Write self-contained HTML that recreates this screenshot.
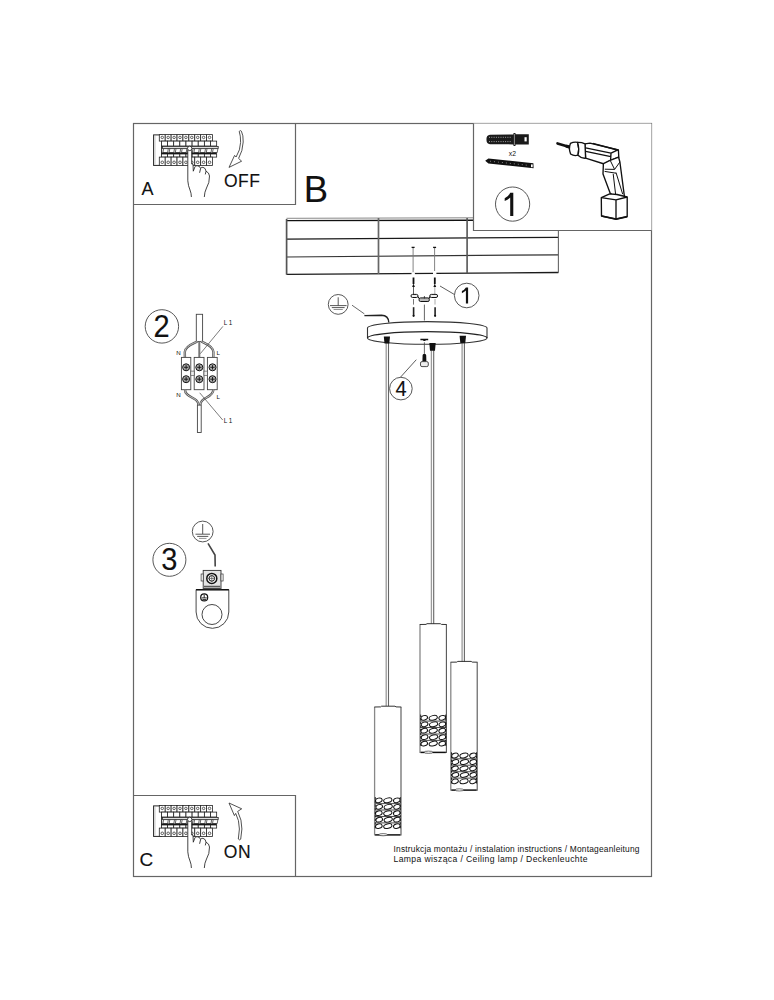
<!DOCTYPE html>
<html><head><meta charset="utf-8">
<style>
html,body{margin:0;padding:0;background:#fff;}
body{width:774px;height:1000px;overflow:hidden;position:relative;}
svg{position:absolute;left:0;top:0;display:block;}
text{font-family:"Liberation Sans",sans-serif;fill:#111;}
.b{stroke:#111;stroke-width:0.12;}
</style></head>
<body>
<svg width="774" height="1000" viewBox="0 0 774 1000">
<rect width="774" height="1000" fill="#fff"/>

<!-- FRAMES -->
<g fill="none" stroke="#656565" stroke-width="1.2">
  <rect x="133.5" y="123.5" width="518" height="753"/>
  <polyline points="133.5,204.5 295.5,204.5 295.5,123.5"/>
  <polyline points="133.5,795.5 295.5,795.5 295.5,876.5"/>
</g>

<!-- CEILING -->
<g fill="none" stroke-linecap="butt">
  <line x1="286.5" y1="218.3" x2="473" y2="217.8" stroke="#888" stroke-width="1"/>
  <line x1="286.5" y1="220.6" x2="473" y2="220.2" stroke="#111" stroke-width="1.4"/>
  <line x1="286.5" y1="239.2" x2="558.4" y2="237.3" stroke="#1a1a1a" stroke-width="1.25"/>
  <line x1="286.5" y1="257.0" x2="558.4" y2="254.8" stroke="#333" stroke-width="1.2"/>
  <line x1="286.5" y1="274.4" x2="558.4" y2="272.5" stroke="#1a1a1a" stroke-width="1.35"/>
  <line x1="286.6" y1="219" x2="286.6" y2="274.6" stroke="#555" stroke-width="1.7"/>
  <line x1="378.5" y1="218" x2="378.5" y2="274" stroke="#666" stroke-width="1.7"/>
  <line x1="467.1" y1="218" x2="467.1" y2="273.2" stroke="#555" stroke-width="1.6"/>
  <line x1="558.4" y1="230.5" x2="558.4" y2="272.8" stroke="#666" stroke-width="1.1"/>
</g>
<!-- SCREWS INTO CEILING -->
<g stroke="#777" fill="none">
  <line x1="413.1" y1="247.5" x2="413.1" y2="272" stroke-width="0.9"/>
  <line x1="434.6" y1="247.5" x2="434.6" y2="271" stroke-width="0.9"/>
  <line x1="411.6" y1="247.4" x2="414.6" y2="247.4" stroke-width="1.3" stroke="#111"/>
  <line x1="433.1" y1="247.4" x2="436.1" y2="247.4" stroke-width="1.3" stroke="#111"/>
  <rect x="411.5" y="272.6" width="3.4" height="3.2" fill="#fff" stroke="none"/>
  <rect x="433" y="271.6" width="3.4" height="3.2" fill="#fff" stroke="none"/>
  <line x1="413.5" y1="277.5" x2="413.5" y2="284" stroke-width="1.8" stroke="#111"/>
  <line x1="434.8" y1="277.5" x2="434.8" y2="284" stroke-width="1.8" stroke="#111"/>
  <path d="M412.1,287 L413.5,283.5 L414.9,287Z" fill="#111" stroke="none"/>
  <path d="M433.4,287 L434.8,283.5 L436.2,287Z" fill="#111" stroke="none"/>
  <line x1="413.5" y1="287" x2="413.5" y2="294.5" stroke-width="0.8" stroke="#333"/>
  <line x1="434.8" y1="287" x2="434.8" y2="294.5" stroke-width="0.8" stroke="#999"/>
  <line x1="413.5" y1="299" x2="413.5" y2="304.6" stroke-width="1" stroke="#777"/>
  <line x1="435" y1="299" x2="435" y2="304.6" stroke-width="1" stroke="#aaa"/>
  <line x1="413.6" y1="307.2" x2="413.6" y2="315.6" stroke-width="1.6" stroke="#222"/>
  <line x1="435.1" y1="307.2" x2="435.1" y2="315.6" stroke-width="1.6" stroke="#222"/>
  <circle cx="413.6" cy="315.8" r="1.1" fill="#111" stroke="none"/>
  <circle cx="435.1" cy="315.8" r="1.1" fill="#111" stroke="none"/>
  <line x1="424.4" y1="304.6" x2="424.4" y2="320.5" stroke-width="0.9" stroke="#555"/>
</g>
<!-- BRACKET -->
<g stroke="#111" stroke-width="1">
  <path d="M417.6,296.2 L419.8,299.4 M430.2,296.2 L428.4,299.4" fill="none"/>
  <rect x="411" y="294.4" width="7" height="3.1" rx="1.55" fill="#eee"/>
  <rect x="429.8" y="294.4" width="7.8" height="3.1" rx="1.55" fill="#eee"/>
  <rect x="419.1" y="297.9" width="10.2" height="3.6" rx="1.4" fill="#bbb"/>
  <line x1="424.4" y1="296" x2="424.4" y2="298.5" stroke-width="0.7"/>
</g>
<!-- leader 1 -->
<line x1="440" y1="286" x2="454.4" y2="294.5" stroke="#333" stroke-width="0.8"/>
<circle cx="466.7" cy="295.5" r="12.3" fill="#fff" stroke="#444" stroke-width="0.9"/>
<path d="M465.9,287.4 L468.1,287.4 L468.1,303.4 L465.9,303.4 L465.9,290.6 Q464,292.5 461.9,293.2 L461.9,291 Q464.6,289.6 465.9,287.4Z" fill="#111"/>

<!-- GROUND SYMBOL -->
<g stroke="#444" fill="none" stroke-width="0.9">
  <circle cx="338.2" cy="304.4" r="9.9"/>
  <line x1="338.2" y1="297.3" x2="338.2" y2="305.5"/>
  <line x1="330" y1="305.6" x2="346.6" y2="305.6"/>
  <line x1="331.8" y1="307.6" x2="344.6" y2="307.6"/>
  <line x1="333.6" y1="309.5" x2="342.8" y2="309.5" stroke="#888"/>
  <line x1="352" y1="305.2" x2="364.4" y2="313.9" stroke-width="0.8"/>
  <path d="M364.4,315.6 L381.5,315.2 Q388.5,315.2 388.8,322.5" stroke="#222" stroke-width="1.4"/>
</g>

<!-- CABLES -->
<g fill="none">
  <line x1="386.2" y1="343" x2="386.2" y2="706" stroke="#9a9a9a" stroke-width="1.3"/>
  <line x1="388.5" y1="343" x2="388.5" y2="706" stroke="#666" stroke-width="1.1"/>
  <line x1="431.4" y1="350" x2="431.4" y2="624" stroke="#9a9a9a" stroke-width="1.3"/>
  <line x1="433.7" y1="350" x2="433.7" y2="624" stroke="#666" stroke-width="1.1"/>
  <line x1="462.1" y1="342" x2="462.1" y2="662" stroke="#9a9a9a" stroke-width="1.3"/>
  <line x1="464.4" y1="342" x2="464.4" y2="662" stroke="#666" stroke-width="1.1"/>
</g>

<!-- CANOPY -->
<g stroke="#333" stroke-width="1.1" fill="#fff">
  <path d="M367.5,328 A59.75,6.4 0 0 1 487,328 L487,338 A59.75,6.3 0 0 1 367.5,338 Z"/>
  <path d="M367.5,338 A59.75,6.3 0 0 1 487,338" fill="none" stroke="#222" stroke-width="1.3"/>
</g>
<!-- holders -->
<g fill="#111">
  <path d="M383.8,336.5 L390,336.5 L389.3,343.6 L384.5,343.6Z"/>
  <path d="M429.3,343 L435.7,343 L435,350.7 L430,350.7Z"/>
  <path d="M459.6,335.8 L466,335.8 L465.3,343 L460.3,343Z"/>
</g>
<!-- screw 4 -->
<g>
  <path d="M420.4,339.6 L428.2,339.6 M423.3,340.3 L425.5,340.3" stroke="#111" stroke-width="1.5"/>
  <line x1="424.4" y1="342.3" x2="424.4" y2="353.8" stroke="#444" stroke-width="0.8"/>
  <path d="M422.6,355.3 Q422.6,353.8 424.4,353.8 Q426.2,353.8 426.2,355.3 L426.4,361.5 L422.4,361.5Z" fill="#111"/>
  <rect x="420.5" y="361.6" width="7.8" height="5" rx="1.5" fill="#eee" stroke="#222" stroke-width="0.8"/>
</g>
<line x1="416.3" y1="359.7" x2="400.4" y2="377.3" stroke="#333" stroke-width="0.8"/>
<circle cx="400.9" cy="388.6" r="11.3" fill="#fff" stroke="#444" stroke-width="0.9"/>
<text class="b" x="395.5" y="395.8" font-size="20" transform="translate(0 395.8) scale(1 1.08) translate(0 -395.8)">4</text>

<rect x="473.5" y="123.5" width="178" height="107" fill="#fff" stroke="none"/>
<polyline points="473.5,123.5 473.5,230.5 651.5,230.5" fill="none" stroke="#656565" stroke-width="1.2"/>

<!-- PANEL 2 -->
<circle cx="161.9" cy="326.4" r="16.7" fill="none" stroke="#444" stroke-width="0.9"/>
<text class="b" x="153.6" y="337" font-size="29" transform="translate(0 337) scale(1 1.1) translate(0 -337)">2</text>
<g stroke="#444" stroke-width="0.9" fill="#fff">
  <rect x="196.3" y="314.3" width="6.3" height="27.2"/>
  <!-- upper wires -->
  <path d="M197.4,341.5 C193.5,343.5 185,346 184.8,352 L184.9,357.5" fill="none" stroke="#555" stroke-width="2.4"/>
  <path d="M197.4,341.5 C193.5,343.5 185,346 184.8,352 L184.9,357.5" fill="none" stroke="#ddd" stroke-width="0.8"/>
  <path d="M201.3,341.5 C205,343.5 213.3,346 213.4,352 L213.3,357.5" fill="none" stroke="#555" stroke-width="2.4"/>
  <path d="M201.3,341.5 C205,343.5 213.3,346 213.4,352 L213.3,357.5" fill="none" stroke="#ddd" stroke-width="0.8"/>
  <line x1="199.3" y1="341.5" x2="199.3" y2="357.4" stroke="#777" stroke-width="2"/>
  <!-- terminals -->
  <rect x="181.4" y="357.4" width="9.4" height="32.3"/>
  <rect x="194.2" y="357.4" width="9.8" height="32.3"/>
  <rect x="207.4" y="357.4" width="9.8" height="32.3"/>
  <rect x="190.8" y="371.1" width="3.4" height="4.3" fill="#eee" stroke-width="0.6"/>
  <rect x="204" y="371.1" width="3.4" height="4.3" fill="#eee" stroke-width="0.6"/>
  <!-- lower wires -->
  <path d="M185,389.7 C185,396 193,397 196.5,400.5 C198,402 198.5,403.5 198.6,405.2" fill="none" stroke="#555" stroke-width="2.4"/>
  <path d="M185,389.7 C185,396 193,397 196.5,400.5 C198,402 198.5,403.5 198.6,405.2" fill="none" stroke="#ddd" stroke-width="0.8"/>
  <path d="M213.3,389.7 C213.3,396 205.5,397 202.2,400.5 C200.8,402 200.3,403.5 200.2,405.2" fill="none" stroke="#555" stroke-width="2.4"/>
  <path d="M213.3,389.7 C213.3,396 205.5,397 202.2,400.5 C200.8,402 200.3,403.5 200.2,405.2" fill="none" stroke="#ddd" stroke-width="0.8"/>
  <rect x="197.4" y="405.1" width="3.8" height="27.4"/>
</g>
<g fill="#aaa" stroke="#111" stroke-width="1">
  <circle cx="186.1" cy="367.3" r="3.5"/><circle cx="199.3" cy="367.3" r="3.5"/><circle cx="212.5" cy="367.3" r="3.5"/>
  <circle cx="186.1" cy="379.2" r="3.5"/><circle cx="199.3" cy="379.2" r="3.5"/><circle cx="212.5" cy="379.2" r="3.5"/>
</g>
<g stroke="#111" stroke-width="0.9">
  <path d="M183.9,367.3h4.4M186.1,365.1v4.4M197.1,367.3h4.4M199.3,365.1v4.4M210.3,367.3h4.4M212.5,365.1v4.4"/>
  <path d="M183.9,379.2h4.4M186.1,377v4.4M197.1,379.2h4.4M199.3,377v4.4M210.3,379.2h4.4M212.5,377v4.4"/>
</g>
<g stroke="#444" stroke-width="0.7">
  <line x1="222.9" y1="326.4" x2="200.3" y2="353.7"/>
  <line x1="199.7" y1="392.8" x2="222.7" y2="420"/>
</g>
<g font-size="6.2" fill="#666">
  <text x="176.3" y="354.8">N</text>
  <text x="216.4" y="354.6">L</text>
  <text x="176.3" y="397.3">N</text>
  <text x="216.4" y="398.9">L</text>
  <text x="223.8" y="325.1" font-size="6.3">L 1</text>
  <text x="223.8" y="423.1" font-size="6.3">L 1</text>
</g>

<!-- PANEL 3 -->
<circle cx="169.4" cy="559.8" r="16.5" fill="none" stroke="#444" stroke-width="0.9"/>
<text class="b" x="161.3" y="569.6" font-size="29" transform="translate(0 569.6) scale(1 1.09) translate(0 -569.6)">3</text>
<g stroke="#444" stroke-width="0.9" fill="none">
  <circle cx="202.7" cy="531.5" r="10.4"/>
  <line x1="202.7" y1="524" x2="202.7" y2="534"/>
  <line x1="195.5" y1="534.2" x2="210" y2="534.2"/>
  <line x1="197.2" y1="536.4" x2="208.3" y2="536.4"/>
  <line x1="199" y1="538.4" x2="206.5" y2="538.4" stroke="#888"/>
  <path d="M208,543.4 L215,555 L215.2,566.5" stroke="#444" stroke-width="1.6"/>
</g>
<!-- lug -->
<g stroke="#333" stroke-width="0.9">
  <path d="M196.1,589.6 L228.8,589.6 L228.8,612 A16.35,16.35 0 0 1 196.1,612 Z" fill="#fff"/>
  <line x1="196.1" y1="589.8" x2="228.8" y2="589.8" stroke="#111" stroke-width="1.6"/>
  <circle cx="212" cy="614.5" r="10" fill="#fff"/>
  <circle cx="204.2" cy="597.4" r="3.5" fill="#fff" stroke="#111" stroke-width="1.2"/>
  <path d="M201.6,597.9h5.2M204.2,594.6v3.3M202.4,599.6h3.6" stroke="#111" stroke-width="0.9"/>
  <rect x="203.2" y="570.4" width="17.8" height="18.5" fill="#e4e4e4"/>
  <rect x="201.1" y="574" width="2.1" height="7" fill="#fff" stroke-width="0.7"/>
  <rect x="221" y="574" width="2.1" height="7" fill="#fff" stroke-width="0.7"/>
  <line x1="204" y1="586.3" x2="220.2" y2="586.3" stroke="#222" stroke-width="0.9"/>
  <line x1="204" y1="588.2" x2="220.2" y2="588.2" stroke="#222" stroke-width="0.9"/>
  <circle cx="211.8" cy="578.4" r="5" fill="#fff" stroke="#111" stroke-width="1.5"/>
  <circle cx="211.8" cy="578.4" r="2.8" fill="none" stroke="#111" stroke-width="1"/>
  <path d="M208.4,578.4h6.8M211.8,575v6.8" stroke="#444" stroke-width="0.7"/>
</g>

<!-- BOX 1 -->
<g>
  <path d="M486.5,139.4 Q486.2,135.4 490,134.8 L513.3,134.4 L513.6,133 L515.4,133 L515.6,134.3 L528.8,134.3 L528.8,144.4 L515.6,144.4 L515.4,145.9 L513.6,145.9 L513.3,144.4 L490,144.2 Q486.2,143.6 486.5,139.4Z" fill="#1a1a1a"/>
  <g stroke="#fff" stroke-width="0.6" stroke-dasharray="1 1.3">
    <line x1="489" y1="137.3" x2="511" y2="137.3"/>
    <line x1="489" y1="141.6" x2="511" y2="141.6"/>
  </g>
  <rect x="524.5" y="137.2" width="2.2" height="4.2" fill="#fff"/>
  <line x1="514.4" y1="134" x2="514.4" y2="145" stroke="#fff" stroke-width="0.5"/>
  <text x="508.8" y="155.8" font-size="6.8" fill="#555">x2</text>
  <path d="M485.2,160.7 L488.4,158.5 L533.4,163.2 L533.6,168.3 L488.4,163.5 Z" fill="#111"/>
  <line x1="490" y1="161.2" x2="529" y2="165.4" stroke="#fff" stroke-width="0.6" stroke-dasharray="0.8 3.2"/>
  <rect x="531" y="164.4" width="1.7" height="2.8" fill="#fff"/>
  <circle cx="512.6" cy="204.1" r="17.1" fill="none" stroke="#444" stroke-width="0.9"/>
  <path d="M510.2,192.8 L513.3,192.8 L513.3,215.9 L510.2,215.9 L510.2,197.6 Q507.6,199.9 504.7,201 L504.7,198.2 Q508.6,196.4 510.2,192.8Z" fill="#111"/>
</g>
<!-- DRILL -->
<g fill="#fff" stroke="#111" stroke-width="1.35" stroke-linejoin="round">
  <line x1="557.5" y1="143.4" x2="569.4" y2="147" stroke-width="2.6" stroke-linecap="round"/><line x1="566" y1="146" x2="570" y2="147.3" stroke-width="3.2"/>
  <path d="M585,143.8 L590,143.2 L618.4,150 L618.8,157.2 L609.5,160.8 L604.2,164 L585.6,158.2 Z"/>
  <path d="M570.4,143.4 Q574,141.6 577.6,142.4 Q579.6,148.6 578,155.2 Q574,156.4 570.6,154 Q568.4,148.4 570.4,143.4Z"/>
  <path d="M577.6,142.4 Q581.5,142.2 585,143.8 L585.6,158.2 Q581.8,158.8 578,155.2 Q579.6,148.6 577.6,142.4Z"/>
  <path d="M585.6,147.8 L611,153.2 L618.4,149.6 M585.7,151.4 L610.8,156.6 M611,153.2 L610.6,160.4 M592.8,143.4 L617.6,150" fill="none"/>
  <path d="M603.4,163.6 L603,173.9 L610.2,193.2 L616,197.7 L624.4,196.3 L619.9,162 L618.6,157.2 L609.5,160.6 Z"/>
  <path d="M604.8,169.2 L614.6,169.4 L619.9,162 M604.6,171.4 L616,173.2 M613.2,173.9 L616,197.7 M616,172.5 L622.7,194.2 M610.5,161 L614.6,169.4" fill="none" stroke-width="1"/>
  <path d="M601.3,197.7 L609.7,193.9 L617,194.5 L627.2,197 L627.2,216.6 L616,219.1 L601.5,216 Z"/>
  <path d="M601.3,197.7 L616,199.8 L627.2,197 M616,199.8 L616,219.1" fill="none"/>
  <path d="M601.5,216 L616,219.1 L627.2,216.6" fill="none" stroke-width="1.6"/>
</g>

<g id="lamp1">
<rect x="374.6" y="707.0" width="26.4" height="128.5" fill="#fff" stroke="none"/>
<line x1="374.6" y1="707.0" x2="374.6" y2="835.5" stroke="#888" stroke-width="1.3"/>
<line x1="401.0" y1="707.0" x2="401.0" y2="835.5" stroke="#555" stroke-width="1.1"/>
<path d="M374.3,707.0 L380.6,706.9 L381.6,706.2 L395.0,706.2 L396.0,706.9 L401.3,707.0" fill="none" stroke="#333" stroke-width="1"/>
<line x1="375.1" y1="803.6" x2="400.5" y2="803.6" stroke="#222" stroke-width="0.8"/>
<line x1="375.1" y1="810.0" x2="400.5" y2="810.0" stroke="#222" stroke-width="0.8"/>
<line x1="375.1" y1="816.5" x2="400.5" y2="816.5" stroke="#222" stroke-width="0.8"/>
<line x1="375.1" y1="822.9" x2="400.5" y2="822.9" stroke="#222" stroke-width="0.8"/>
<g stroke="#111" stroke-width="1.0" fill="#fff">
<ellipse cx="378.8" cy="800.3" rx="3.4" ry="2.25" transform="rotate(-14 378.8 800.3)"/>
<ellipse cx="387.8" cy="800.3" rx="4.2" ry="2.25" transform="rotate(-14 387.8 800.3)"/>
<ellipse cx="396.8" cy="800.3" rx="3.4" ry="2.25" transform="rotate(-14 396.8 800.3)"/>
<ellipse cx="379.2" cy="806.8" rx="3.4" ry="2.25" transform="rotate(-14 379.2 806.8)"/>
<ellipse cx="388.2" cy="806.8" rx="4.2" ry="2.25" transform="rotate(-14 388.2 806.8)"/>
<ellipse cx="397.0" cy="806.8" rx="3.4" ry="2.25" transform="rotate(-14 397.0 806.8)"/>
<ellipse cx="378.8" cy="813.2" rx="3.4" ry="2.25" transform="rotate(-14 378.8 813.2)"/>
<ellipse cx="387.8" cy="813.2" rx="4.2" ry="2.25" transform="rotate(-14 387.8 813.2)"/>
<ellipse cx="396.8" cy="813.2" rx="3.4" ry="2.25" transform="rotate(-14 396.8 813.2)"/>
<ellipse cx="379.2" cy="819.7" rx="3.4" ry="2.25" transform="rotate(-14 379.2 819.7)"/>
<ellipse cx="388.2" cy="819.7" rx="4.2" ry="2.25" transform="rotate(-14 388.2 819.7)"/>
<ellipse cx="397.0" cy="819.7" rx="3.4" ry="2.25" transform="rotate(-14 397.0 819.7)"/>
<ellipse cx="378.8" cy="826.1" rx="3.4" ry="2.25" transform="rotate(-14 378.8 826.1)"/>
<ellipse cx="387.8" cy="826.1" rx="4.2" ry="2.25" transform="rotate(-14 387.8 826.1)"/>
<ellipse cx="396.8" cy="826.1" rx="3.4" ry="2.25" transform="rotate(-14 396.8 826.1)"/>
</g>
<line x1="375.3" y1="797.1" x2="375.3" y2="829.5" stroke="#111" stroke-width="0.9" stroke-dasharray="2.4 1.2"/>
<line x1="400.3" y1="797.1" x2="400.3" y2="829.5" stroke="#111" stroke-width="0.9" stroke-dasharray="2.4 1.2"/>
<path d="M375.1,834.9 L400.5,834.9" stroke="#111" stroke-width="1.5"/>
<ellipse cx="383.1" cy="834.7" rx="4.2" ry="1.1" fill="#fff" stroke="#333" stroke-width="0.7"/>
</g>
<g id="lamp2">
<rect x="420.0" y="624.5" width="26.4" height="128.5" fill="#fff" stroke="none"/>
<line x1="420.0" y1="624.5" x2="420.0" y2="753.0" stroke="#888" stroke-width="1.3"/>
<line x1="446.4" y1="624.5" x2="446.4" y2="753.0" stroke="#555" stroke-width="1.1"/>
<path d="M419.7,624.5 L426.0,624.4 L427.0,623.7 L440.4,623.7 L441.4,624.4 L446.7,624.5" fill="none" stroke="#333" stroke-width="1"/>
<line x1="420.5" y1="721.1" x2="445.9" y2="721.1" stroke="#222" stroke-width="0.8"/>
<line x1="420.5" y1="727.5" x2="445.9" y2="727.5" stroke="#222" stroke-width="0.8"/>
<line x1="420.5" y1="734.0" x2="445.9" y2="734.0" stroke="#222" stroke-width="0.8"/>
<line x1="420.5" y1="740.4" x2="445.9" y2="740.4" stroke="#222" stroke-width="0.8"/>
<g stroke="#111" stroke-width="1.0" fill="#fff">
<ellipse cx="424.2" cy="717.8" rx="3.4" ry="2.25" transform="rotate(-14 424.2 717.8)"/>
<ellipse cx="433.2" cy="717.8" rx="4.2" ry="2.25" transform="rotate(-14 433.2 717.8)"/>
<ellipse cx="442.2" cy="717.8" rx="3.4" ry="2.25" transform="rotate(-14 442.2 717.8)"/>
<ellipse cx="424.6" cy="724.3" rx="3.4" ry="2.25" transform="rotate(-14 424.6 724.3)"/>
<ellipse cx="433.6" cy="724.3" rx="4.2" ry="2.25" transform="rotate(-14 433.6 724.3)"/>
<ellipse cx="442.4" cy="724.3" rx="3.4" ry="2.25" transform="rotate(-14 442.4 724.3)"/>
<ellipse cx="424.2" cy="730.7" rx="3.4" ry="2.25" transform="rotate(-14 424.2 730.7)"/>
<ellipse cx="433.2" cy="730.7" rx="4.2" ry="2.25" transform="rotate(-14 433.2 730.7)"/>
<ellipse cx="442.2" cy="730.7" rx="3.4" ry="2.25" transform="rotate(-14 442.2 730.7)"/>
<ellipse cx="424.6" cy="737.2" rx="3.4" ry="2.25" transform="rotate(-14 424.6 737.2)"/>
<ellipse cx="433.6" cy="737.2" rx="4.2" ry="2.25" transform="rotate(-14 433.6 737.2)"/>
<ellipse cx="442.4" cy="737.2" rx="3.4" ry="2.25" transform="rotate(-14 442.4 737.2)"/>
<ellipse cx="424.2" cy="743.6" rx="3.4" ry="2.25" transform="rotate(-14 424.2 743.6)"/>
<ellipse cx="433.2" cy="743.6" rx="4.2" ry="2.25" transform="rotate(-14 433.2 743.6)"/>
<ellipse cx="442.2" cy="743.6" rx="3.4" ry="2.25" transform="rotate(-14 442.2 743.6)"/>
</g>
<line x1="420.7" y1="714.6" x2="420.7" y2="747.0" stroke="#111" stroke-width="0.9" stroke-dasharray="2.4 1.2"/>
<line x1="445.7" y1="714.6" x2="445.7" y2="747.0" stroke="#111" stroke-width="0.9" stroke-dasharray="2.4 1.2"/>
<path d="M420.5,752.4 L445.9,752.4" stroke="#111" stroke-width="1.5"/>
<ellipse cx="428.5" cy="752.2" rx="4.2" ry="1.1" fill="#fff" stroke="#333" stroke-width="0.7"/>
</g>
<g id="lamp3">
<rect x="450.8" y="662.2" width="26.4" height="128.5" fill="#fff" stroke="none"/>
<line x1="450.8" y1="662.2" x2="450.8" y2="790.7" stroke="#888" stroke-width="1.3"/>
<line x1="477.2" y1="662.2" x2="477.2" y2="790.7" stroke="#555" stroke-width="1.1"/>
<path d="M450.5,662.2 L456.8,662.1 L457.8,661.4 L471.2,661.4 L472.2,662.1 L477.5,662.2" fill="none" stroke="#333" stroke-width="1"/>
<line x1="451.3" y1="758.8" x2="476.7" y2="758.8" stroke="#222" stroke-width="0.8"/>
<line x1="451.3" y1="765.2" x2="476.7" y2="765.2" stroke="#222" stroke-width="0.8"/>
<line x1="451.3" y1="771.7" x2="476.7" y2="771.7" stroke="#222" stroke-width="0.8"/>
<line x1="451.3" y1="778.1" x2="476.7" y2="778.1" stroke="#222" stroke-width="0.8"/>
<g stroke="#111" stroke-width="1.0" fill="#fff">
<ellipse cx="455.0" cy="755.5" rx="3.4" ry="2.25" transform="rotate(-14 455.0 755.5)"/>
<ellipse cx="464.0" cy="755.5" rx="4.2" ry="2.25" transform="rotate(-14 464.0 755.5)"/>
<ellipse cx="473.0" cy="755.5" rx="3.4" ry="2.25" transform="rotate(-14 473.0 755.5)"/>
<ellipse cx="455.4" cy="762.0" rx="3.4" ry="2.25" transform="rotate(-14 455.4 762.0)"/>
<ellipse cx="464.4" cy="762.0" rx="4.2" ry="2.25" transform="rotate(-14 464.4 762.0)"/>
<ellipse cx="473.2" cy="762.0" rx="3.4" ry="2.25" transform="rotate(-14 473.2 762.0)"/>
<ellipse cx="455.0" cy="768.4" rx="3.4" ry="2.25" transform="rotate(-14 455.0 768.4)"/>
<ellipse cx="464.0" cy="768.4" rx="4.2" ry="2.25" transform="rotate(-14 464.0 768.4)"/>
<ellipse cx="473.0" cy="768.4" rx="3.4" ry="2.25" transform="rotate(-14 473.0 768.4)"/>
<ellipse cx="455.4" cy="774.9" rx="3.4" ry="2.25" transform="rotate(-14 455.4 774.9)"/>
<ellipse cx="464.4" cy="774.9" rx="4.2" ry="2.25" transform="rotate(-14 464.4 774.9)"/>
<ellipse cx="473.2" cy="774.9" rx="3.4" ry="2.25" transform="rotate(-14 473.2 774.9)"/>
<ellipse cx="455.0" cy="781.3" rx="3.4" ry="2.25" transform="rotate(-14 455.0 781.3)"/>
<ellipse cx="464.0" cy="781.3" rx="4.2" ry="2.25" transform="rotate(-14 464.0 781.3)"/>
<ellipse cx="473.0" cy="781.3" rx="3.4" ry="2.25" transform="rotate(-14 473.0 781.3)"/>
</g>
<line x1="451.5" y1="752.3" x2="451.5" y2="784.7" stroke="#111" stroke-width="0.9" stroke-dasharray="2.4 1.2"/>
<line x1="476.5" y1="752.3" x2="476.5" y2="784.7" stroke="#111" stroke-width="0.9" stroke-dasharray="2.4 1.2"/>
<path d="M451.3,790.1 L476.7,790.1" stroke="#111" stroke-width="1.5"/>
<ellipse cx="459.3" cy="789.9" rx="4.2" ry="1.1" fill="#fff" stroke="#333" stroke-width="0.7"/>
</g>
<g fill="#fff" stroke="#222" stroke-width="0.8">
<rect x="153.6" y="134.9" width="8" height="30.5" stroke-width="1"/>
<line x1="155" y1="136.0" x2="155" y2="164.5" stroke="#bbb" stroke-width="0.8"/>
<rect x="159.30" y="134.6" width="5.91" height="6.5"/>
<circle cx="162.26" cy="137.4" r="1.25" stroke-width="0.7"/>
<rect x="165.21" y="134.6" width="5.91" height="6.5"/>
<circle cx="168.17" cy="137.4" r="1.25" stroke-width="0.7"/>
<rect x="171.12" y="134.6" width="5.91" height="6.5"/>
<circle cx="174.08" cy="137.4" r="1.25" stroke-width="0.7"/>
<rect x="177.03" y="134.6" width="5.91" height="6.5"/>
<circle cx="179.99" cy="137.4" r="1.25" stroke-width="0.7"/>
<rect x="182.94" y="134.6" width="5.91" height="6.5"/>
<circle cx="185.90" cy="137.4" r="1.25" stroke-width="0.7"/>
<rect x="188.85" y="134.6" width="5.91" height="6.5"/>
<circle cx="191.81" cy="137.4" r="1.25" stroke-width="0.7"/>
<rect x="194.76" y="134.6" width="5.91" height="6.5"/>
<circle cx="197.72" cy="137.4" r="1.25" stroke-width="0.7"/>
<rect x="200.67" y="134.6" width="5.91" height="6.5"/>
<circle cx="203.63" cy="137.4" r="1.25" stroke-width="0.7"/>
<rect x="206.58" y="134.6" width="5.91" height="6.5"/>
<circle cx="209.54" cy="137.4" r="1.25" stroke-width="0.7"/>
<rect x="161.40" y="141.1" width="6.14" height="4.9"/>
<rect x="167.54" y="141.1" width="6.14" height="4.9"/>
<rect x="173.68" y="141.1" width="6.14" height="4.9"/>
<rect x="179.82" y="141.1" width="6.14" height="4.9"/>
<rect x="185.96" y="141.1" width="6.14" height="4.9"/>
<rect x="192.10" y="141.1" width="6.14" height="4.9"/>
<rect x="198.24" y="141.1" width="6.14" height="4.9"/>
<rect x="204.38" y="141.1" width="6.14" height="4.9"/>
<rect x="210.52" y="141.1" width="6.14" height="4.9"/>
<rect x="162.4" y="146.4" width="55.8" height="2" fill="#ddd"/>
<path d="M163.60,148.6 L168.30,148.6 L167.60,152.6 L162.90,152.6Z" stroke-width="0.7"/>
<path d="M169.80,148.6 L174.50,148.6 L173.80,152.6 L169.10,152.6Z" stroke-width="0.7"/>
<path d="M176.00,148.6 L180.70,148.6 L180.00,152.6 L175.30,152.6Z" stroke-width="0.7"/>
<path d="M182.20,148.6 L186.90,148.6 L186.20,152.6 L181.50,152.6Z" stroke-width="0.7"/>
<path d="M188.40,148.6 L193.10,148.6 L192.40,152.6 L187.70,152.6Z" stroke-width="0.7"/>
<path d="M194.60,148.6 L199.30,148.6 L198.60,152.6 L193.90,152.6Z" stroke-width="0.7"/>
<path d="M200.80,148.6 L205.50,148.6 L204.80,152.6 L200.10,152.6Z" stroke-width="0.7"/>
<path d="M207.00,148.6 L211.70,148.6 L211.00,152.6 L206.30,152.6Z" stroke-width="0.7"/>
<path d="M213.20,148.6 L217.90,148.6 L217.20,152.6 L212.50,152.6Z" stroke-width="0.7"/>
<line x1="161.4" y1="153.3" x2="216.7" y2="153.3" stroke="#111" stroke-width="1.4"/>
<rect x="161.40" y="154.0" width="6.14" height="3.1"/>
<rect x="167.54" y="154.0" width="6.14" height="3.1"/>
<rect x="173.68" y="154.0" width="6.14" height="3.1"/>
<rect x="179.82" y="154.0" width="6.14" height="3.1"/>
<rect x="185.96" y="154.0" width="6.14" height="3.1"/>
<rect x="192.10" y="154.0" width="6.14" height="3.1"/>
<rect x="198.24" y="154.0" width="6.14" height="3.1"/>
<rect x="204.38" y="154.0" width="6.14" height="3.1"/>
<rect x="210.52" y="154.0" width="6.14" height="3.1"/>
<rect x="159.30" y="157.1" width="5.91" height="8.3"/>
<circle cx="162.26" cy="162.3" r="1.3" stroke-width="0.7"/>
<rect x="165.21" y="157.1" width="5.91" height="8.3"/>
<circle cx="168.17" cy="162.3" r="1.3" stroke-width="0.7"/>
<rect x="171.12" y="157.1" width="5.91" height="8.3"/>
<circle cx="174.08" cy="162.3" r="1.3" stroke-width="0.7"/>
<rect x="177.03" y="157.1" width="5.91" height="8.3"/>
<circle cx="179.99" cy="162.3" r="1.3" stroke-width="0.7"/>
<rect x="182.94" y="157.1" width="5.91" height="8.3"/>
<circle cx="185.90" cy="162.3" r="1.3" stroke-width="0.7"/>
<rect x="188.85" y="157.1" width="5.91" height="8.3"/>
<circle cx="191.81" cy="162.3" r="1.3" stroke-width="0.7"/>
<rect x="194.76" y="157.1" width="5.91" height="8.3"/>
<circle cx="197.72" cy="162.3" r="1.3" stroke-width="0.7"/>
<rect x="200.67" y="157.1" width="5.91" height="8.3"/>
<circle cx="203.63" cy="162.3" r="1.3" stroke-width="0.7"/>
<rect x="206.58" y="157.1" width="5.91" height="8.3"/>
<circle cx="209.54" cy="162.3" r="1.3" stroke-width="0.7"/>
</g>
<g fill="#fff" stroke="#222" stroke-width="0.85" stroke-linejoin="round">
<path d="M187.8,150.0 L187.8,180.8 Q188.2,186 190,190.0 Q191.3,193 191.4,197.0 L204.3,197.0 Q204.5,192 206.5,188.0 Q209.6,183 209.5,176.0 Q209.2,172.5 206,171.2 Q205.8,168 203,167.3 Q201.2,167 200.6,168.5 Q200,166 197.5,165.8 Q195.5,165.5 195,166.6 L193.3,171.2 L193,164.0 L191.7,164.0 L191.7,150.0 Z" fill="#fff" stroke="none"/>
<path d="M187.8,150.0 L187.8,180.8 Q188.2,186 190,190.0 Q191.3,193 191.4,197.0 M204.3,197.0 Q204.5,192 206.5,188.0 Q209.6,183 209.5,176.0 Q209.2,172.5 206,171.2 Q205.8,168 203,167.3 Q201.2,167 200.6,168.5 Q200,166 197.5,165.8 Q195.5,165.5 195,166.6 L193.3,171.2 L193,164.0 L191.7,164.0 L191.7,150.0" fill="none"/>
<path d="M200.6,168.5 L199.6,172.8 M206,171.2 L205.3,174.4" fill="none"/>
<circle cx="189.7" cy="148.4" r="2.2"/>
</g>
<path d="M239.2,131.4 Q240.4,129.9 241.4,131.2 Q243.4,135 243.2,142 Q242.8,151 238.6,158.4 L241.6,161.2 L229,167.4 L234.6,155.4 L236.1,157 Q240.4,150 240.6,142.4 Q240.7,135.5 239.2,131.4Z" fill="#fff" stroke="#333" stroke-width="0.85" stroke-linejoin="round"/>
<g fill="#fff" stroke="#222" stroke-width="0.8">
<rect x="153.6" y="805.9" width="8" height="30.5" stroke-width="1"/>
<line x1="155" y1="807.0" x2="155" y2="835.5" stroke="#bbb" stroke-width="0.8"/>
<rect x="159.30" y="805.6" width="5.91" height="6.5"/>
<circle cx="162.26" cy="808.4" r="1.25" stroke-width="0.7"/>
<rect x="165.21" y="805.6" width="5.91" height="6.5"/>
<circle cx="168.17" cy="808.4" r="1.25" stroke-width="0.7"/>
<rect x="171.12" y="805.6" width="5.91" height="6.5"/>
<circle cx="174.08" cy="808.4" r="1.25" stroke-width="0.7"/>
<rect x="177.03" y="805.6" width="5.91" height="6.5"/>
<circle cx="179.99" cy="808.4" r="1.25" stroke-width="0.7"/>
<rect x="182.94" y="805.6" width="5.91" height="6.5"/>
<circle cx="185.90" cy="808.4" r="1.25" stroke-width="0.7"/>
<rect x="188.85" y="805.6" width="5.91" height="6.5"/>
<circle cx="191.81" cy="808.4" r="1.25" stroke-width="0.7"/>
<rect x="194.76" y="805.6" width="5.91" height="6.5"/>
<circle cx="197.72" cy="808.4" r="1.25" stroke-width="0.7"/>
<rect x="200.67" y="805.6" width="5.91" height="6.5"/>
<circle cx="203.63" cy="808.4" r="1.25" stroke-width="0.7"/>
<rect x="206.58" y="805.6" width="5.91" height="6.5"/>
<circle cx="209.54" cy="808.4" r="1.25" stroke-width="0.7"/>
<rect x="161.40" y="812.1" width="6.14" height="4.9"/>
<rect x="167.54" y="812.1" width="6.14" height="4.9"/>
<rect x="173.68" y="812.1" width="6.14" height="4.9"/>
<rect x="179.82" y="812.1" width="6.14" height="4.9"/>
<rect x="185.96" y="812.1" width="6.14" height="4.9"/>
<rect x="192.10" y="812.1" width="6.14" height="4.9"/>
<rect x="198.24" y="812.1" width="6.14" height="4.9"/>
<rect x="204.38" y="812.1" width="6.14" height="4.9"/>
<rect x="210.52" y="812.1" width="6.14" height="4.9"/>
<rect x="162.4" y="817.4" width="55.8" height="2" fill="#ddd"/>
<path d="M163.60,819.6 L168.30,819.6 L167.60,823.6 L162.90,823.6Z" stroke-width="0.7"/>
<path d="M169.80,819.6 L174.50,819.6 L173.80,823.6 L169.10,823.6Z" stroke-width="0.7"/>
<path d="M176.00,819.6 L180.70,819.6 L180.00,823.6 L175.30,823.6Z" stroke-width="0.7"/>
<path d="M182.20,819.6 L186.90,819.6 L186.20,823.6 L181.50,823.6Z" stroke-width="0.7"/>
<path d="M188.40,819.6 L193.10,819.6 L192.40,823.6 L187.70,823.6Z" stroke-width="0.7"/>
<path d="M194.60,819.6 L199.30,819.6 L198.60,823.6 L193.90,823.6Z" stroke-width="0.7"/>
<path d="M200.80,819.6 L205.50,819.6 L204.80,823.6 L200.10,823.6Z" stroke-width="0.7"/>
<path d="M207.00,819.6 L211.70,819.6 L211.00,823.6 L206.30,823.6Z" stroke-width="0.7"/>
<path d="M213.20,819.6 L217.90,819.6 L217.20,823.6 L212.50,823.6Z" stroke-width="0.7"/>
<line x1="161.4" y1="824.3" x2="216.7" y2="824.3" stroke="#111" stroke-width="1.4"/>
<rect x="161.40" y="825.0" width="6.14" height="3.1"/>
<rect x="167.54" y="825.0" width="6.14" height="3.1"/>
<rect x="173.68" y="825.0" width="6.14" height="3.1"/>
<rect x="179.82" y="825.0" width="6.14" height="3.1"/>
<rect x="185.96" y="825.0" width="6.14" height="3.1"/>
<rect x="192.10" y="825.0" width="6.14" height="3.1"/>
<rect x="198.24" y="825.0" width="6.14" height="3.1"/>
<rect x="204.38" y="825.0" width="6.14" height="3.1"/>
<rect x="210.52" y="825.0" width="6.14" height="3.1"/>
<rect x="159.30" y="828.1" width="5.91" height="8.3"/>
<circle cx="162.26" cy="833.3" r="1.3" stroke-width="0.7"/>
<rect x="165.21" y="828.1" width="5.91" height="8.3"/>
<circle cx="168.17" cy="833.3" r="1.3" stroke-width="0.7"/>
<rect x="171.12" y="828.1" width="5.91" height="8.3"/>
<circle cx="174.08" cy="833.3" r="1.3" stroke-width="0.7"/>
<rect x="177.03" y="828.1" width="5.91" height="8.3"/>
<circle cx="179.99" cy="833.3" r="1.3" stroke-width="0.7"/>
<rect x="182.94" y="828.1" width="5.91" height="8.3"/>
<circle cx="185.90" cy="833.3" r="1.3" stroke-width="0.7"/>
<rect x="188.85" y="828.1" width="5.91" height="8.3"/>
<circle cx="191.81" cy="833.3" r="1.3" stroke-width="0.7"/>
<rect x="194.76" y="828.1" width="5.91" height="8.3"/>
<circle cx="197.72" cy="833.3" r="1.3" stroke-width="0.7"/>
<rect x="200.67" y="828.1" width="5.91" height="8.3"/>
<circle cx="203.63" cy="833.3" r="1.3" stroke-width="0.7"/>
<rect x="206.58" y="828.1" width="5.91" height="8.3"/>
<circle cx="209.54" cy="833.3" r="1.3" stroke-width="0.7"/>
</g>
<g fill="#fff" stroke="#222" stroke-width="0.85" stroke-linejoin="round">
<path d="M187.8,821.0 L187.8,851.8 Q188.2,857 190,861.0 Q191.3,864 191.4,868.0 L204.3,868.0 Q204.5,863 206.5,859.0 Q209.6,854 209.5,847.0 Q209.2,843.5 206,842.2 Q205.8,839 203,838.3 Q201.2,838 200.6,839.5 Q200,837 197.5,836.8 Q195.5,836.5 195,837.6 L193.3,842.2 L193,835.0 L191.7,835.0 L191.7,821.0 Z" fill="#fff" stroke="none"/>
<path d="M187.8,821.0 L187.8,851.8 Q188.2,857 190,861.0 Q191.3,864 191.4,868.0 M204.3,868.0 Q204.5,863 206.5,859.0 Q209.6,854 209.5,847.0 Q209.2,843.5 206,842.2 Q205.8,839 203,838.3 Q201.2,838 200.6,839.5 Q200,837 197.5,836.8 Q195.5,836.5 195,837.6 L193.3,842.2 L193,835.0 L191.7,835.0 L191.7,821.0" fill="none"/>
<path d="M200.6,839.5 L199.6,843.8 M206,842.2 L205.3,845.4" fill="none"/>
<circle cx="189.7" cy="819.4" r="2.2"/>
</g>
<path d="M238.3,839 Q239.4,840.6 240.7,839.2 L241.9,829 Q242.1,820 237.7,811.4 L241.7,808.8 L229,803 L234.4,815.6 L235.7,813.4 Q239.3,820 239.4,829 Z" fill="#fff" stroke="#333" stroke-width="0.85" stroke-linejoin="round"/>
<!-- LETTERS -->
<text class="b" x="141.6" y="194.6" font-size="17.5" transform="translate(141.6 0) scale(1.03 1) translate(-141.6 0)">A</text>
<text class="b" x="223.9" y="187.2" font-size="17.5" letter-spacing="0.5">OFF</text>
<text class="b" x="139.5" y="866.2" font-size="17.5" transform="translate(139.5 0) scale(1.08 1) translate(-139.5 0)">C</text>
<text class="b" x="223.8" y="858" font-size="17.5" letter-spacing="0.6">ON</text>
<text class="b" x="303.8" y="201.6" font-size="36.5" style="stroke-width:0.1" transform="translate(0 201.6) scale(1 1.03) translate(0 -201.6)">B</text>
<text x="393.5" y="851.6" font-size="8.4" fill="#222" textLength="246" lengthAdjust="spacing">Instrukcja montażu / instalation instructions / Montageanleitung</text>
<text x="393.5" y="862" font-size="8.6" fill="#222" textLength="194" lengthAdjust="spacing">Lampa wisząca / Ceiling lamp / Deckenleuchte</text>

</svg>
</body></html>
